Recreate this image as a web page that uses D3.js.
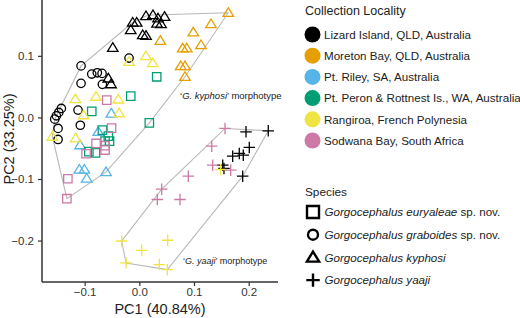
<!DOCTYPE html>
<html><head><meta charset="utf-8">
<script src="https://cdn.jsdelivr.net/npm/d3@7"></script>
<style>body{margin:0;background:#fff}svg{display:block;font-family:"Liberation Sans",Arial,sans-serif}</style>
</head><body><svg id="c" width="520" height="318"></svg>
<script>
// Localities and colours
const localities = ["Lizard Island, QLD, Australia","Moreton Bay, QLD, Australia","Pt. Riley, SA, Australia","Pt. Peron & Rottnest Is., WA, Australia","Rangiroa, French Polynesia","Sodwana Bay, South Africa"];
const localityColors = ["#000000","#E69F00","#56B4E9","#009E73","#F0E442","#CC79A7"];
const species = ["euryaleae","graboides","kyphosi","yaaji"];
const speciesLabels = [["Gorgocephalus euryaleae"," sp. nov."],["Gorgocephalus graboides"," sp. nov."],["Gorgocephalus kyphosi",""],["Gorgocephalus yaaji",""]];
const xTicks = [-0.1,0.0,0.1,0.2];
const yTicks = [0.1,0.0,-0.1,-0.2];

// points: [PC1, PC2]
const lizardGraboides = [[-0.1426,0.0146],[-0.1473,0.0081],[-0.1517,0.0026],[-0.1547,-0.0028],[-0.1486,-0.0179],[-0.1486,-0.0358],[-0.1121,0.0119],[-0.1079,-0.0127],[-0.1066,0.0837],[-0.0870,0.0704],[-0.0768,0.0725],[-0.0682,0.0715],[-0.1066,0.0553],[-0.0676,0.0537],[-0.0188,0.0964]];
const lizardKyphosi = [[-0.0486,0.1132],[-0.0157,0.1420],[-0.0121,0.1541],[-0.0048,0.1541],[0.0062,0.1338],[0.0122,0.1327],[0.0122,0.1647],[0.0250,0.1663],[0.0342,0.1610],[0.0461,0.1636],[0.0324,0.1525],[0.0397,0.1517],[-0.0567,0.0634],[-0.0517,0.0541]];
const lizardYaaji = [[0.1951,-0.0234],[0.2358,-0.0218],[0.2011,-0.0488],[0.1707,-0.0629],[0.1828,-0.0585],[0.1901,-0.0613],[0.1525,-0.0776],[0.1548,-0.0829],[0.1890,-0.0954]];
const moretonKyphosi = [[0.1627,0.1701],[0.1311,0.1517],[0.0987,0.1382],[0.0384,0.1246],[0.0793,0.1122],[0.0867,0.1122],[0.1128,0.1176],[0.0757,0.0834],[0.0835,0.0834],[0.0835,0.0660]];
const rileyKyphosi = [[-0.0512,0.0065],[-0.0750,-0.0234],[-0.1084,-0.0450],[-0.1097,-0.0846],[-0.1005,-0.0846],[-0.0962,-0.0992],[-0.0609,-0.0885]];
const peronEuryaleae = [[-0.0157,0.0346],[0.0318,0.0660],[0.0183,-0.0088],[-0.0870,0.0098],[-0.0676,-0.0207],[-0.0567,-0.0304],[-0.0545,-0.0385],[-0.0627,-0.0385],[-0.0923,-0.0556],[-0.0801,-0.0576]];
const rangiroaKyphosi = [[-0.1170,0.0298],[-0.0792,0.0338],[-0.0384,0.0293],[-0.1020,0.0037],[-0.0371,0.0070],[0.0122,0.0997],[0.0245,0.0883],[-0.0188,0.0904],[-0.1590,-0.0312],[-0.1166,-0.0337]];
const rangiroaYaaji = [[-0.0322,-0.2007],[-0.0243,-0.2364],[0.0044,-0.2158],[0.0519,-0.1995],[0.0366,-0.2390],[0.0512,-0.2472],[0.1488,-0.0846]];
const sodwanaEuryaleae = [[-0.0596,0.0281],[-0.0508,-0.0174],[-0.0792,-0.0423],[-0.0627,-0.0459],[-0.0627,-0.0530],[-0.0974,-0.0590],[-0.1307,-0.0996],[-0.1325,-0.1320]];
const sodwanaYaaji = [[0.1567,-0.0179],[0.1324,-0.0467],[0.1342,-0.0776],[0.1671,-0.0857],[0.0896,-0.0954],[0.0410,-0.1166],[0.0329,-0.1333],[0.0744,-0.1333]];

const groups = [
  [lizardGraboides,0,"graboides"],[lizardKyphosi,0,"kyphosi"],
  [moretonKyphosi,1,"kyphosi"],[rileyKyphosi,2,"kyphosi"],[peronEuryaleae,3,"euryaleae"],
  [rangiroaKyphosi,4,"kyphosi"],[sodwanaEuryaleae,5,"euryaleae"],
  [lizardYaaji,0,"yaaji"],[rangiroaYaaji,4,"yaaji"],[sodwanaYaaji,5,"yaaji"]
];
const points = [];
groups.forEach(([arr,loc,sp]) => arr.forEach(p => points.push({x:p[0],y:p[1],loc,sp})));

const svg = d3.select("#c");
const x = d3.scaleLinear().domain([-0.178,0.2536]).range([42,278]);
const y = d3.scaleLinear().domain([-0.2673,0.1907]).range([282,0]);

function shape(sp, s){
  if(sp==="euryaleae") return `M${-s},${-s}H${s}V${s}H${-s}Z`;
  if(sp==="graboides") return `M${s},0A${s},${s} 0 1,1 ${-s},0A${s},${s} 0 1,1 ${s},0Z`;
  if(sp==="kyphosi"){ const h=s*1.8; return `M0,${-h*0.58}L${s*1.1},${h*0.42}H${-s*1.1}Z`; }
  return `M${-s*1.2},0H${s*1.2}M0,${-s*1.2}V${s*1.2}`;
}

// hulls
const kyHull = d3.polygonHull(points.filter(p=>p.sp!=="yaaji").map(p=>[x(p.x),y(p.y)]));
const yaHull = d3.polygonHull(points.filter(p=>p.sp==="yaaji").map(p=>[x(p.x),y(p.y)]));
[kyHull,yaHull].forEach(h => svg.append("path").attr("d","M"+h.join("L")+"Z")
  .attr("fill","none").attr("stroke","#b8b8b8").attr("stroke-width",1.1));

svg.append("g").selectAll("path").data(points).join("path")
  .attr("transform",d=>`translate(${x(d.x)},${y(d.y)})`)
  .attr("d",d=>shape(d.sp, d.sp==="graboides"?4.2:(d.sp==="euryaleae"?4.2:4.8)))
  .attr("fill","none").attr("stroke",d=>localityColors[d.loc]).attr("stroke-width",1.3);

// axes
const gx = svg.append("g").attr("transform","translate(0,282)")
  .call(d3.axisBottom(x).tickValues(xTicks).tickFormat(d3.format(".1f")).tickSize(4).tickSizeOuter(0));
const gy = svg.append("g").attr("transform","translate(42,0)")
  .call(d3.axisLeft(y).tickValues(yTicks).tickFormat(d3.format(".1f")).tickSize(4).tickSizeOuter(0));
[gx,gy].forEach(g=>{
  g.select(".domain").attr("stroke","#333").attr("stroke-width",1.5);
  g.selectAll(".tick line").attr("stroke","#333").attr("stroke-width",1.2);
  g.selectAll(".tick text").attr("fill","#333").attr("font-size",11.5).attr("font-family","Liberation Sans, Arial, sans-serif");
});
gx.select(".domain").attr("d","M42,0H278");
gy.select(".domain").attr("d","M0,0V282");
gx.selectAll(".tick text").attr("y",6);
gy.selectAll(".tick text").attr("dx","-1");

svg.append("text").attr("x",160).attr("y",314).attr("text-anchor","middle")
  .attr("font-size",14.5).attr("fill","#222").text("PC1 (40.84%)");
svg.append("text").attr("transform","translate(13.5,139) rotate(-90)").attr("text-anchor","middle")
  .attr("font-size",14.5).attr("fill","#222").text("PC2 (33.25%)");

// hull labels
const l1 = svg.append("text").attr("x",180).attr("y",99).attr("font-size",9.5).attr("fill","#222");
l1.append("tspan").text("\u2018");
l1.append("tspan").attr("font-style","italic").text("G. kyphosi");
l1.append("tspan").text("\u2019 morphotype");
const l2 = svg.append("text").attr("x",183).attr("y",264).attr("font-size",9).attr("fill","#222");
l2.append("tspan").text("\u2018");
l2.append("tspan").attr("font-style","italic").text("G. yaaji");
l2.append("tspan").text("\u2019 morphotype");

// legend: localities
svg.append("text").attr("x",305).attr("y",15).attr("font-size",12.5).attr("fill","#222").text("Collection Locality");
const lg = svg.append("g").selectAll("g").data(localities).join("g")
  .attr("transform",(d,i)=>`translate(312.5,${34.5+i*21.2})`);
lg.append("circle").attr("r",8).attr("fill",(d,i)=>localityColors[i]);
lg.append("text").attr("x",11.5).attr("y",4.2).attr("font-size",11.6).attr("fill","#222").text(d=>d);

// legend: species
svg.append("text").attr("x",305).attr("y",196).attr("font-size",11.8).attr("fill","#222").text("Species");
const sg = svg.append("g").selectAll("g").data(species).join("g")
  .attr("transform",(d,i)=>`translate(313,${212+i*22.7})`);
sg.append("path").attr("d",d=>shape(d, d==="graboides"?5:(d==="euryaleae"?6:5.6)))
  .attr("fill","none").attr("stroke","#000").attr("stroke-width",2.4);
const st = sg.append("text").attr("x",11.5).attr("y",4.2).attr("font-size",11.6).attr("fill","#222");
st.append("tspan").attr("font-style","italic").text((d,i)=>speciesLabels[i][0]);
st.append("tspan").text((d,i)=>speciesLabels[i][1]);
</script></body></html>
